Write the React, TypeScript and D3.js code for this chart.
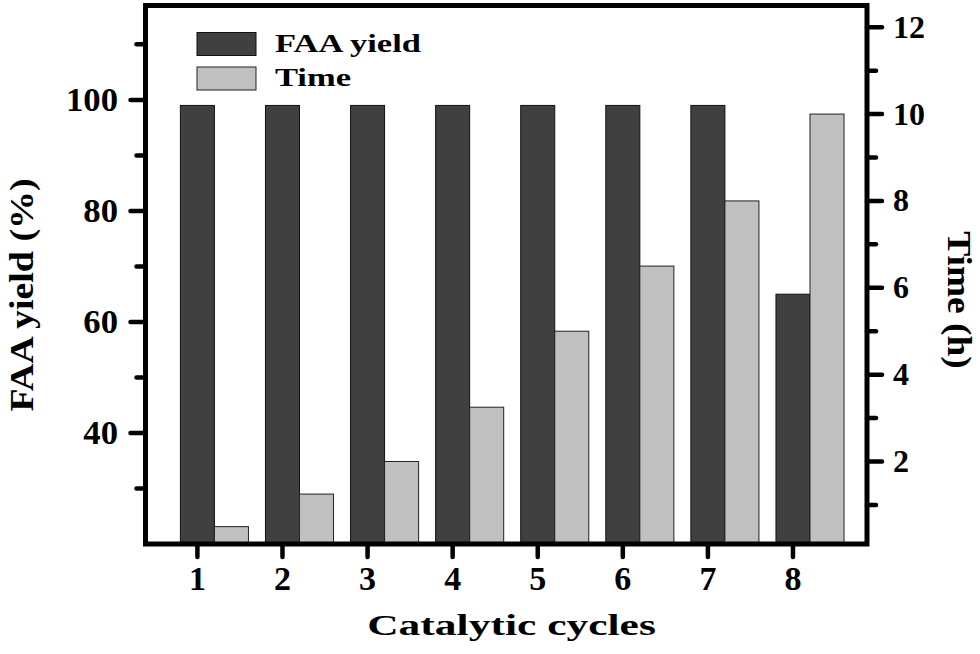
import React from 'react';
import * as d3 from 'd3';

const cycles = [1, 2, 3, 4, 5, 6, 7, 8];
const faaYield = [99, 99, 99, 99, 99, 99, 99, 65];
const timeHours = [0.5, 1.25, 2, 3.25, 5, 6.5, 8, 10];
const leftTicks = [40, 60, 80, 100];
const leftMinor = [30, 50, 70, 90, 110];
const rightTicks = [2, 4, 6, 8, 10, 12];
const rightMinor = [1, 3, 5, 7, 9, 11];

const W = 980;
const H = 654;
const margin = { left: 145.5, right: 867, top: 5.5, bottom: 544 };
const FONT = "'Liberation Serif', 'Times New Roman', Times, serif";
const DARK = '#404040';
const LIGHT = '#c0c0c0';

const App: React.FC = () => {
  const x = d3.scaleLinear().domain([0.39, 8.87]).range([margin.left, margin.right]);
  const yLeft = d3.scaleLinear().domain([20, 117]).range([margin.bottom, margin.top]);
  const yRight = d3.scaleLinear().domain([0.1, 12.5]).range([margin.bottom, margin.top]);
  const barW = 0.4;

  const major = 15;
  const minor = 9;

  return (
    <svg width={W} height={H}
      style={{ position: 'absolute', left: 0, top: 0, background: '#fff', fontFamily: FONT, fontWeight: 700 }}>
      {/* bars */}
      <g>
        {cycles.map((c, i) => (
          <rect key={'f' + c}
            x={x(c - barW / 2)} width={x(c + barW / 2) - x(c - barW / 2)}
            y={yLeft(faaYield[i])} height={margin.bottom - yLeft(faaYield[i])}
            fill={DARK} stroke="#111" strokeWidth={1} />
        ))}
        {cycles.map((c, i) => (
          <rect key={'t' + c}
            x={x(c + barW / 2)} width={x(c + 1.5 * barW) - x(c + barW / 2)}
            y={yRight(timeHours[i])} height={margin.bottom - yRight(timeHours[i])}
            fill={LIGHT} stroke="#222" strokeWidth={1} />
        ))}
      </g>

      {/* frame */}
      <rect x={margin.left} y={margin.top} width={margin.right - margin.left}
        height={margin.bottom - margin.top} fill="none" stroke="#000" strokeWidth={5} />

      {/* ticks */}
      <g stroke="#000" strokeWidth={4.5} strokeLinecap="round">
        {leftTicks.map(t => (
          <line key={t} x1={margin.left} x2={margin.left - major} y1={yLeft(t)} y2={yLeft(t)} />
        ))}
        {leftMinor.map(t => (
          <line key={t} x1={margin.left} x2={margin.left - minor} y1={yLeft(t)} y2={yLeft(t)} />
        ))}
        {rightTicks.map(t => (
          <line key={t} x1={margin.right} x2={margin.right + major} y1={yRight(t)} y2={yRight(t)} />
        ))}
        {rightMinor.map(t => (
          <line key={t} x1={margin.right} x2={margin.right + minor} y1={yRight(t)} y2={yRight(t)} />
        ))}
        {cycles.map(c => (
          <line key={c} x1={x(c)} x2={x(c)} y1={margin.bottom} y2={margin.bottom + major - 2} />
        ))}
      </g>

      {/* tick labels */}
      {leftTicks.map(t => (
        <text key={t} transform={`translate(118,${yLeft(t) + 11}) scale(1.02,1)`}
          textAnchor="end" fontSize={34}>{t}</text>
      ))}
      {rightTicks.map(t => (
        <text key={t} transform={`translate(893,${yRight(t) + 10.5}) scale(1.0,1)`}
          textAnchor="start" fontSize={32}>{t}</text>
      ))}
      {cycles.map(c => (
        <text key={c} transform={`translate(${x(c)},590) scale(1.0,1)`}
          textAnchor="middle" fontSize={34}>{c}</text>
      ))}

      {/* axis titles */}
      <text transform="translate(511.5,635) scale(1.45,1)" textAnchor="middle" fontSize={30}>
        Catalytic cycles
      </text>
      <text transform="translate(33,295) rotate(-90) scale(1.15,1)" textAnchor="middle" fontSize={33}>
        FAA yield (%)
      </text>
      <text transform="translate(948,300) rotate(90) scale(1.1,1)" textAnchor="middle" fontSize={34}>
        Time (h)
      </text>

      {/* legend */}
      <rect x={197} y={32.5} width={59} height={23} fill={DARK} stroke="#111" strokeWidth={1} />
      <rect x={197} y={67} width={59} height={23} fill={LIGHT} stroke="#222" strokeWidth={1} />
      <text transform="translate(275,51.5) scale(1.38,1)" fontSize={25}>FAA yield</text>
      <text transform="translate(275,85.5) scale(1.38,1)" fontSize={25}>Time</text>
    </svg>
  );
};

export default App;
